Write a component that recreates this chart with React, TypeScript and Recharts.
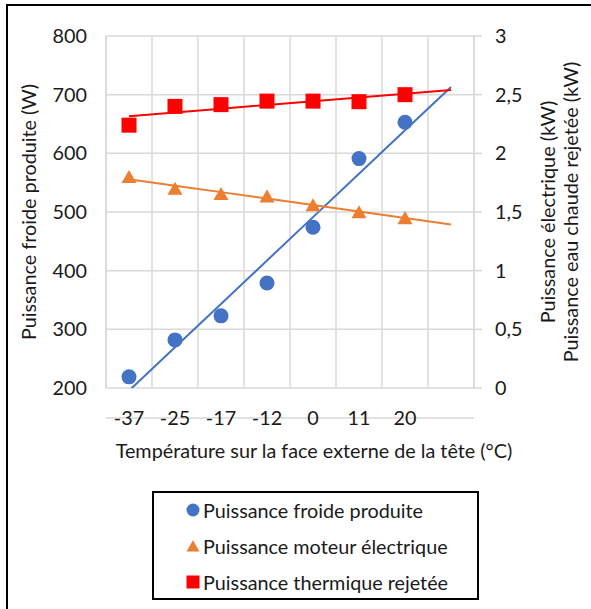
import React from 'react'
import { ComposedChart, Line, XAxis, YAxis, CartesianGrid, Label } from 'recharts'

const temperatures = ['-37', '-25', '-17', '-12', '0', '11', '20']
const froidW = [219, 282, 323, 379, 474, 591, 653]
const moteurKW = [1.8, 1.7, 1.655, 1.635, 1.56, 1.5, 1.45]
const thermiqueKW = [2.24, 2.4, 2.415, 2.445, 2.445, 2.44, 2.5]

const leftTicks = [200, 300, 400, 500, 600, 700, 800]
const rightTicks = [0, 0.5, 1, 1.5, 2, 2.5, 3]

const BLUE = '#4472C4'
const ORANGE = '#ED7D31'
const RED = '#FF0000'
const GRID = '#D9D9D9'
const TEXT = '#1a1a1a'
const FONT = 'Lato, "Open Sans", sans-serif'
const FS = 19.8

// one extra period after the last temperature, like the Excel trendline forecast
const FORECAST = 1

// least squares trendline, evaluated on each category slot
const trend = (ys: number[]) => {
  const n = ys.length
  const mx = (n - 1) / 2
  const my = ys.reduce((a, b) => a + b, 0) / n
  let num = 0
  let den = 0
  ys.forEach((y, i) => {
    num += (i - mx) * (y - my)
    den += (i - mx) * (i - mx)
  })
  const slope = num / den
  return (i: number) => my + slope * (i - mx)
}

const tFroid = trend(froidW)
const tMoteur = trend(moteurKW)
const tThermique = trend(thermiqueKW)

const data = Array.from({ length: temperatures.length + FORECAST }, (_, i) => ({
  i,
  froid: froidW[i],
  moteur: moteurKW[i],
  thermique: thermiqueKW[i],
  tFroid: tFroid(i),
  tMoteur: tMoteur(i),
  tThermique: tThermique(i),
}))

const gridTicks = Array.from({ length: data.length + 1 }, (_, k) => k - 0.5)

const Circle = ({ cx, cy, fill, size = 15 }: any) => <circle cx={cx} cy={cy} r={size / 2} fill={fill} />
const Triangle = ({ cx, cy, fill, size = 15 }: any) => (
  <polygon
    points={`${cx},${cy - size * 0.45} ${cx + size / 2},${cy + size * 0.42} ${cx - size / 2},${cy + size * 0.42}`}
    fill={fill}
  />
)
const Square = ({ cx, cy, fill, size = 15 }: any) => (
  <rect x={cx - size / 2} y={cy - size / 2} width={size} height={size} fill={fill} />
)

const makeDot = (Shape: any, fill: string) => (props: any) => {
  const { cx, cy, index, value } = props
  if (cx == null || cy == null || value == null) return <g key={index} />
  return <Shape key={index} cx={cx} cy={cy} fill={fill} />
}

const legendItems = [
  { label: 'Puissance froide produite', Shape: Circle, color: BLUE },
  { label: 'Puissance moteur électrique', Shape: Triangle, color: ORANGE },
  { label: 'Puissance thermique rejetée', Shape: Square, color: RED },
]

const fmt = (v: number) => String(v).replace('.', ',')

const PLOT_BOTTOM = 388

const XTick = ({ x, payload }: any) => (
  <text
    x={x}
    y={PLOT_BOTTOM + 29}
    textAnchor="middle"
    dominantBaseline="central"
    fill={TEXT}
    fontSize={FS}
    fontFamily={FONT}
  >
    {temperatures[payload.value] ?? ''}
  </text>
)

export default function App() {
  const tickStyle = { fill: TEXT, fontSize: FS, fontFamily: FONT }
  return (
    <div
      style={{
        position: 'absolute',
        left: 0,
        top: 0,
        width: 591,
        height: 609,
        overflow: 'hidden',
        background: '#fff',
        fontFamily: FONT,
      }}
    >
      <div
        style={{
          position: 'absolute',
          left: 6,
          top: 4,
          width: 640,
          height: 660,
          border: '2px solid #000',
        }}
      />
      <ComposedChart
        width={591}
        height={609}
        data={data}
        margin={{ top: 36, right: 0, bottom: 0, left: 0 }}
        style={{ position: 'absolute', left: 0, top: 0 }}
      >
        <CartesianGrid xAxisId="g" yAxisId="w" stroke={GRID} strokeWidth={1.5} />
        <XAxis
          xAxisId="g"
          dataKey="i"
          type="number"
          domain={[-0.5, data.length - 0.5]}
          ticks={gridTicks}
          hide
        />
        <XAxis
          xAxisId="m"
          dataKey="i"
          type="number"
          domain={[-0.5, data.length - 0.5]}
          ticks={temperatures.map((_, i) => i)}
          interval={0}
          height={609 - PLOT_BOTTOM}
          axisLine={{ stroke: GRID, strokeWidth: 1.5 }}
          tickLine={false}
          tick={<XTick />}
        >
          <Label
            content={({ viewBox }: any) => (
              <text
                x={viewBox.x + viewBox.width / 2 + 24}
                y={450}
                textAnchor="middle"
                dominantBaseline="central"
                fill={TEXT}
                fontSize={FS}
                fontFamily={FONT}
              >
                Température sur la face externe de la tête (°C)
              </text>
            )}
          />
        </XAxis>
        <YAxis
          yAxisId="w"
          orientation="left"
          width={106}
          domain={[200, 800]}
          ticks={leftTicks}
          allowDataOverflow
          axisLine={{ stroke: GRID, strokeWidth: 1.5 }}
          tickLine={false}
          tickSize={6}
          tickMargin={13}
          tick={tickStyle}
        >
          <Label
            content={({ viewBox }: any) => (
              <text
                transform={`translate(${viewBox.x + 28},${viewBox.y + viewBox.height / 2}) rotate(-90)`}
                textAnchor="middle"
                dominantBaseline="central"
                fill={TEXT}
                fontSize={FS}
                fontFamily={FONT}
              >
                Puissance froide produite (W)
              </text>
            )}
          />
        </YAxis>
        <YAxis
          yAxisId="kw"
          orientation="right"
          width={117}
          domain={[0, 3]}
          ticks={rightTicks}
          allowDataOverflow
          tickFormatter={fmt}
          axisLine={{ stroke: GRID, strokeWidth: 1.5 }}
          tickLine={{ stroke: GRID, strokeWidth: 1.5 }}
          tickSize={8}
          tickMargin={13}
          tick={tickStyle}
        >
          <Label
            content={({ viewBox }: any) => {
              const cy = viewBox.y + viewBox.height / 2
              return (
                <g fill={TEXT} fontSize={FS} fontFamily={FONT}>
                  <text
                    transform={`translate(${viewBox.x + 73},${cy}) rotate(-90)`}
                    textAnchor="middle"
                    dominantBaseline="central"
                  >
                    Puissance électrique (kW)
                  </text>
                  <text
                    transform={`translate(${viewBox.x + 96},${cy}) rotate(-90)`}
                    textAnchor="middle"
                    dominantBaseline="central"
                  >
                    Puissance eau chaude rejetée (kW)
                  </text>
                </g>
              )
            }}
          />
        </YAxis>

        <Line xAxisId="m" yAxisId="w" dataKey="tFroid" stroke={BLUE} strokeWidth={2} dot={false} activeDot={false} isAnimationActive={false} />
        <Line xAxisId="m" yAxisId="kw" dataKey="tMoteur" stroke={ORANGE} strokeWidth={2} dot={false} activeDot={false} isAnimationActive={false} />
        <Line xAxisId="m" yAxisId="kw" dataKey="tThermique" stroke={RED} strokeWidth={2} dot={false} activeDot={false} isAnimationActive={false} />

        <Line xAxisId="m" yAxisId="w" dataKey="froid" stroke="none" dot={makeDot(Circle, BLUE)} activeDot={false} isAnimationActive={false} />
        <Line xAxisId="m" yAxisId="kw" dataKey="moteur" stroke="none" dot={makeDot(Triangle, ORANGE)} activeDot={false} isAnimationActive={false} />
        <Line xAxisId="m" yAxisId="kw" dataKey="thermique" stroke="none" dot={makeDot(Square, RED)} activeDot={false} isAnimationActive={false} />
      </ComposedChart>

      <div
        style={{
          position: 'absolute',
          left: 152,
          top: 491,
          width: 327,
          height: 109,
          border: '2px solid #000',
          boxSizing: 'border-box',
        }}
      >
        {legendItems.map(({ label, Shape, color }, k) => (
          <div
            key={label}
            style={{
              position: 'absolute',
              left: 0,
              top: -1 + k * 36,
              height: 36,
              display: 'flex',
              alignItems: 'center',
              whiteSpace: 'nowrap',
            }}
          >
            <svg width={49} height={36} style={{ display: 'block' }}>
              <Shape cx={39} cy={18} fill={color} size={13} />
            </svg>
            <span style={{ fontSize: FS, color: TEXT, fontFamily: FONT }}>{label}</span>
          </div>
        ))}
      </div>
    </div>
  )
}
